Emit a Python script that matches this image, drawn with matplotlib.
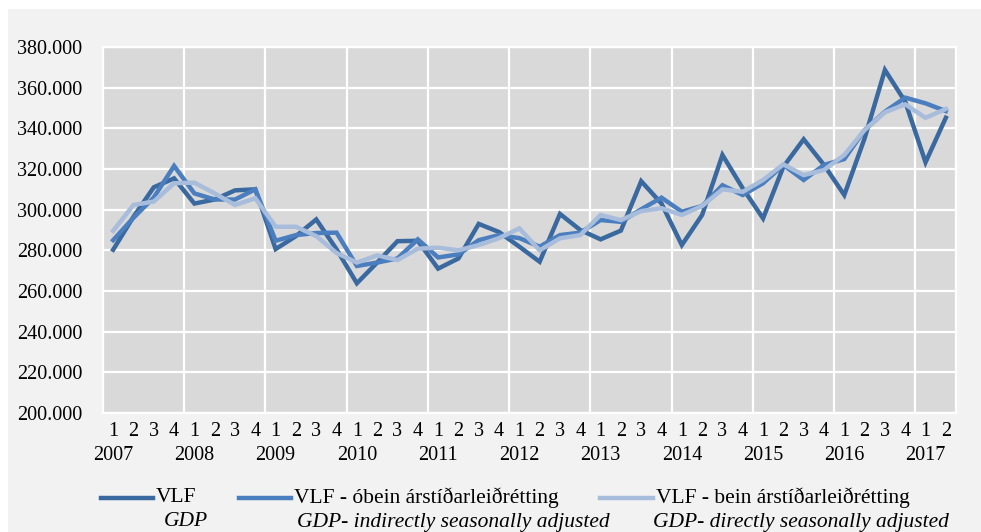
import numpy as np
import matplotlib
matplotlib.use("Agg")
import matplotlib.pyplot as plt
from matplotlib.lines import Line2D
from matplotlib.patches import Rectangle

# ---- Podaci (ársfjórðungar 2007Q1 - 2017Q2) ----
years = list(range(2007, 2018))
quarters = [1, 2, 3, 4] * 10 + [1, 2]

vlf = [280.3, 296.5, 311.0, 315.4, 303.0, 305.0, 309.5, 310.0, 280.6, 287.0,
       295.2, 280.5, 263.8, 274.0, 284.5, 284.7, 271.0, 276.0, 293.0, 289.0,
       281.8, 274.4, 297.9, 290.0, 285.4, 289.7, 314.0, 303.0, 282.6, 297.4,
       326.9, 310.5, 295.7, 321.1, 334.6, 322.0, 307.2, 335.1, 368.7, 353.1,
       323.3, 345.2]

vlf_obein = [285.0, 296.0, 306.0, 321.5, 308.0, 305.0, 305.0, 310.0, 284.7, 287.5,
             288.5, 288.7, 272.3, 274.0, 276.0, 285.4, 276.5, 278.0, 285.0, 287.5,
             286.0, 281.8, 287.5, 288.7, 294.9, 294.0, 300.2, 305.9, 299.0, 301.8,
             312.0, 307.2, 313.0, 322.0, 314.6, 322.0, 324.9, 339.2, 348.2, 355.1,
             352.3, 348.5]

vlf_bein = [289.6, 302.3, 304.0, 313.0, 313.3, 308.0, 302.3, 305.6, 291.6, 291.6,
            287.0, 278.7, 274.0, 277.5, 275.2, 280.8, 281.3, 280.0, 282.6, 286.0,
            290.8, 280.0, 285.9, 287.5, 297.4, 294.9, 299.3, 300.7, 297.4, 301.8,
            310.0, 308.8, 314.6, 322.3, 317.0, 319.5, 326.9, 339.2, 347.9, 351.8,
            345.2, 349.5]

C_DARK = "#3a69a0"
C_MID = "#4a7ebf"
C_LIGHT = "#a8bcdc"
FONT = "Liberation Serif"
FS = 14.5
FS_LEG = 15.5

W, H = 981, 532


def fx(px):
    return px / W


def fy(py):
    return 1 - py / H


def main():
    fig = plt.figure(figsize=(W / 100, H / 100), dpi=100, facecolor="white")
    fig.add_artist(Rectangle((fx(8), 0), 1 - fx(8), fy(9), transform=fig.transFigure,
                             facecolor="#f2f2f2", edgecolor="none", zorder=-10))

    ax = fig.add_axes([fx(103), fy(413), fx(956) - fx(103), fy(47) - fy(413)])
    ax.set_facecolor("#d9d9d9")

    x = np.arange(len(vlf))
    ax.plot(x, vlf, color=C_DARK, lw=3.2, solid_joinstyle="miter", zorder=3)
    ax.plot(x, vlf_obein, color=C_MID, lw=3.2, solid_joinstyle="miter", zorder=4)
    ax.plot(x, vlf_bein, color=C_LIGHT, lw=3.2, solid_joinstyle="miter", zorder=5)

    ax.set_xlim(-0.5, len(vlf) - 0.5)
    ax.set_ylim(200, 380)

    # mreza
    yt = np.arange(200, 381, 20)
    ax.set_yticks(yt)
    ax.set_yticklabels([f"{v:.3f}" for v in yt], fontsize=FS, family=FONT)
    for v in yt:
        ax.axhline(v, color="white", lw=1.6, zorder=1)
    for b in np.arange(3.5, len(vlf) - 1, 4):
        ax.axvline(b, color="white", lw=1.6, zorder=1)
    for s in ax.spines.values():
        s.set_color("white")
        s.set_linewidth(1.6)

    ax.set_xticks(x)
    ax.set_xticklabels([str(q) for q in quarters], fontsize=FS, family=FONT)
    ax.tick_params(axis="both", length=0)
    ax.tick_params(axis="x", pad=6.5)
    ax.tick_params(axis="y", pad=15)

    for k, yr in enumerate(years):
        ax.text(4 * k, -0.115, str(yr), transform=ax.get_xaxis_transform(),
                ha="center", va="center", fontsize=FS, family=FONT)

    # legenda
    items = [
        (101, 153, 156, C_DARK, "VLF", 164, "GDP"),
        (239, 291, 294, C_MID, "VLF - óbein árstíðarleiðrétting", 297,
         "GDP- indirectly seasonally adjusted"),
        (600, 653, 656, C_LIGHT, "VLF - bein árstíðarleiðrétting", 653,
         "GDP- directly seasonally adjusted"),
    ]
    for x0, x1, tx, col, lab, tx2, lab2 in items:
        fig.add_artist(Line2D([fx(x0), fx(x1)], [fy(498), fy(498)], color=col, lw=3.2,
                              transform=fig.transFigure))
        fig.text(fx(tx), fy(498), lab, ha="left", va="center", fontsize=FS_LEG, family=FONT)
        fig.text(fx(tx2), fy(522), lab2, ha="left", va="center", fontsize=FS_LEG,
                 family=FONT, style="italic")

    fig.savefig("out.png", dpi=100, facecolor=fig.get_facecolor())
    plt.close(fig)


if __name__ == "__main__":
    main()
